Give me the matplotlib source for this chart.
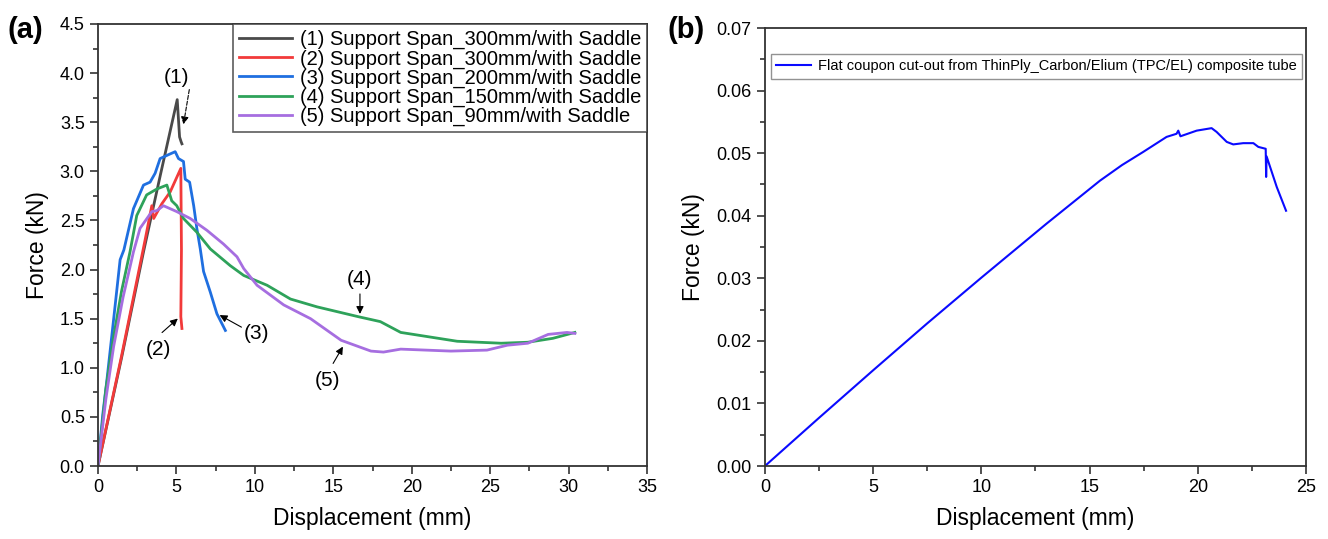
import matplotlib
matplotlib.use("Agg")
import matplotlib.pyplot as plt
from matplotlib.ticker import MultipleLocator

plt.rcParams["font.family"] = ["Liberation Sans", "DejaVu Sans"]

# ---- panel (a): force-displacement, five support spans ----
labels_a = [
    "(1) Support Span_300mm/with Saddle",
    "(2) Support Span_300mm/with Saddle",
    "(3) Support Span_200mm/with Saddle",
    "(4) Support Span_150mm/with Saddle",
    "(5) Support Span_90mm/with Saddle",
]
colors_a = ["#4a4a4a", "#f23a3a", "#1f6fe0", "#2ea25a", "#a66ee0"]

x1 = [0, 1.5, 2.9, 4.0, 5.05, 5.2, 5.3, 5.35]
f1 = [0, 1.10, 2.18, 2.98, 3.73, 3.35, 3.30, 3.28]

x2 = [0, 1.5, 3.0, 3.43, 3.55, 4.07, 4.6, 5.28, 5.32, 5.28, 5.35]
f2 = [0, 1.12, 2.30, 2.65, 2.52, 2.67, 2.79, 3.03, 2.2, 1.52, 1.40]

x3 = [0, 0.3, 0.55, 1.0, 1.41, 1.65, 2.26, 2.9, 3.32, 3.64, 3.96, 4.5,
      4.92, 5.13, 5.45, 5.56, 5.84, 6.1, 6.3, 6.52, 6.73, 7.16, 7.58, 8.12]
f3 = [0, 0.52, 0.85, 1.50, 2.10, 2.20, 2.62, 2.86, 2.89, 2.98, 3.13, 3.17,
      3.20, 3.13, 3.10, 2.92, 2.89, 2.65, 2.42, 2.21, 1.98, 1.77, 1.55, 1.38]

x4 = [0, 0.5, 1.0, 1.5, 2.04, 2.47, 3.1, 3.75, 4.39, 4.7, 5.02, 5.45, 6.3,
      7.16, 8.43, 9.29, 10.78, 12.27, 13.97, 16.6, 18.0, 19.3, 20.5, 22.9,
      25.7, 27.4, 29.0, 30.4]
f4 = [0, 0.78, 1.32, 1.78, 2.18, 2.55, 2.76, 2.82, 2.86, 2.70, 2.65, 2.52,
      2.38, 2.21, 2.04, 1.94, 1.84, 1.70, 1.62, 1.52, 1.47, 1.36, 1.33, 1.27,
      1.25, 1.26, 1.30, 1.36]

x5 = [0, 0.5, 1.0, 1.6, 2.26, 2.68, 3.43, 3.75, 4.17, 5.02, 5.88, 6.94, 8.0,
      8.86, 9.29, 10.14, 11.84, 13.55, 15.5, 17.4, 18.2, 19.3, 22.5, 24.8,
      26.1, 27.4, 28.7, 29.9, 30.4]
f5 = [0, 0.68, 1.22, 1.72, 2.18, 2.42, 2.59, 2.60, 2.65, 2.59, 2.52, 2.40,
      2.26, 2.13, 2.01, 1.84, 1.64, 1.50, 1.28, 1.17, 1.16, 1.19, 1.17, 1.18,
      1.23, 1.25, 1.34, 1.36, 1.35]

curves_a = [(x1, f1), (x2, f2), (x3, f3), (x4, f4), (x5, f5)]

# annotation: label, text position, arrow tail, arrow tip, dashed?
notes_a = [
    ("(1)", (5.0, 3.96), (5.85, 3.86), (5.42, 3.45), True),
    ("(2)", (3.85, 1.19), (3.95, 1.34), (5.22, 1.52), False),
    ("(3)", (10.1, 1.35), (9.3, 1.40), (7.6, 1.55), False),
    ("(4)", (16.7, 1.90), (16.7, 1.78), (16.7, 1.52), False),
    ("(5)", (14.6, 0.87), (14.9, 1.02), (15.7, 1.24), False),
]

# ---- panel (b): flat coupon ----
label_b = "Flat coupon cut-out from ThinPly_Carbon/Elium (TPC/EL) composite tube"
xb = [0, 2.5, 5.0, 7.5, 10.0, 13.0, 15.48, 16.5, 17.48, 18.56, 19.02, 19.1,
      19.2, 19.95, 20.64, 20.87, 21.34, 21.64, 22.1, 22.57, 22.8, 23.14, 23.16,
      23.18, 23.65, 24.08]
fb = [0, 0.0077, 0.0153, 0.0228, 0.0301, 0.0387, 0.0456, 0.0481, 0.0502,
      0.0526, 0.0531, 0.0536, 0.0527, 0.0536, 0.0540, 0.0534, 0.0518, 0.0514,
      0.0516, 0.0516, 0.0510, 0.0507, 0.0462, 0.0495, 0.0446, 0.0408]

fig = plt.figure(figsize=(13.28, 5.39), dpi=100)
ax1 = fig.add_axes([0.0738, 0.1354, 0.4134, 0.8201])
ax2 = fig.add_axes([0.576, 0.1354, 0.4074, 0.8126])


def style(ax):
    for s in ax.spines.values():
        s.set_linewidth(1.3)
        s.set_color("#333333")
    ax.tick_params(which="both", direction="out", top=False, right=False,
                   labelsize=13, width=1.2, color="#333333")
    ax.tick_params(which="major", length=6)
    ax.tick_params(which="minor", length=3.5)
    ax.set_xlabel("Displacement (mm)", fontsize=16.5, labelpad=8)
    ax.set_ylabel("Force (kN)", fontsize=16.5, labelpad=8)


for (x, f), c, lab in zip(curves_a, colors_a, labels_a):
    ax1.plot(x, f, color=c, lw=2, label=lab)
ax1.set_xlim(0, 35)
ax1.set_ylim(0, 4.5)
ax1.xaxis.set_major_locator(MultipleLocator(5))
ax1.xaxis.set_minor_locator(MultipleLocator(2.5))
ax1.yaxis.set_major_locator(MultipleLocator(0.5))
ax1.yaxis.set_minor_locator(MultipleLocator(0.25))
ax1.yaxis.set_major_formatter(matplotlib.ticker.FormatStrFormatter("%.1f"))
style(ax1)
leg = ax1.legend(loc="upper right", fontsize=14.5, frameon=True, fancybox=False,
                 edgecolor="#333333", borderaxespad=0, handlelength=2.6,
                 labelspacing=0.0, borderpad=0.3, handletextpad=0.4)
leg.get_frame().set_linewidth(1.2)

for txt, tpos, tail, tip, dashed in notes_a:
    ax1.text(tpos[0], tpos[1], txt, fontsize=15, ha="center", va="center")
    ax1.annotate("", xy=tip, xytext=tail,
                 arrowprops=dict(arrowstyle="-|>", color="black", lw=0.8,
                                 ls="--" if dashed else "-", mutation_scale=11))

ax2.plot(xb, fb, color="#0a0aff", lw=1.5, label=label_b)
ax2.set_xlim(0, 25)
ax2.set_ylim(0, 0.07)
ax2.xaxis.set_major_locator(MultipleLocator(5))
ax2.xaxis.set_minor_locator(MultipleLocator(2.5))
ax2.yaxis.set_major_locator(MultipleLocator(0.01))
ax2.yaxis.set_minor_locator(MultipleLocator(0.005))
ax2.yaxis.set_major_formatter(matplotlib.ticker.FormatStrFormatter("%.2f"))
style(ax2)
leg2 = ax2.legend(loc="upper left", bbox_to_anchor=(0.011, 0.94), fontsize=10.5,
                  frameon=True, fancybox=False, edgecolor="#777777",
                  borderaxespad=0, handlelength=2.4, borderpad=0.35,
                  handletextpad=0.5)
leg2.get_frame().set_linewidth(1.0)

fig.text(0.006, 0.945, "(a)", fontsize=21, fontweight="bold", va="center")
fig.text(0.503, 0.945, "(b)", fontsize=21, fontweight="bold", va="center")

fig.savefig("out.png", dpi=100)
